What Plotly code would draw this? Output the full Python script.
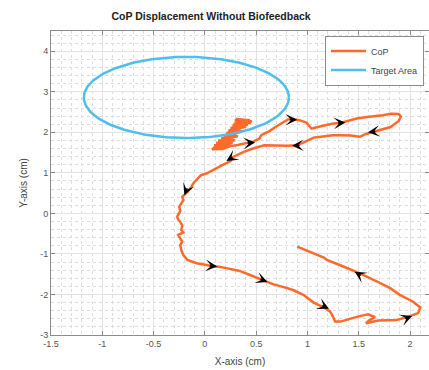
import math
import plotly.graph_objects as go

# CoP trajectory (cm)
cop_x = [0.44, 0.30, 0.46, 0.29, 0.45, 0.30, 0.42, 0.28, 0.38, 0.27, 0.34, 0.25, 0.33, 0.23, 0.31, 0.21,
         0.30, 0.19, 0.28, 0.16, 0.26, 0.13, 0.25, 0.11, 0.24, 0.09, 0.22, 0.08, 0.18, 0.07, 0.14, 0.27,
         0.17, 0.29, 0.22, 0.32, 0.27, 0.36, 0.30, 0.40, 0.35, 0.44, 0.37, 0.26, 0.20, 0.15, 0.09, 0.07,
         0.17, 0.25,
         0.32, 0.41, 0.47, 0.53, 0.55, 0.58, 0.63, 0.70, 0.76, 0.81, 0.86, 0.92, 0.99, 1.04, 1.08, 1.13,
         1.20, 1.25, 1.32, 1.40, 1.48, 1.58, 1.66, 1.74, 1.81, 1.89, 1.91, 1.89, 1.81, 1.72, 1.64, 1.57,
         1.51, 1.42, 1.33, 1.25, 1.15, 1.06, 0.98, 0.90, 0.80, 0.67, 0.58, 0.47, 0.38, 0.28, 0.25, 0.17,
         0.08, 0.02, -0.04, -0.11, -0.14, -0.17, -0.22, -0.21, -0.23, -0.25, -0.24, -0.27, -0.26, -0.24,
         -0.22, -0.23, -0.21, -0.26, -0.24, -0.22, -0.24, -0.23, -0.21, -0.17, -0.08, -0.01, 0.07, 0.15,
         0.22, 0.34, 0.44, 0.56, 0.67, 0.77, 0.86, 0.96, 1.06, 1.16, 1.22, 1.25, 1.27, 1.32, 1.42, 1.50,
         1.59, 1.66, 1.60, 1.57, 1.69, 1.80, 1.87, 1.97, 2.08, 2.10, 2.03, 1.90, 1.81, 1.68, 1.60, 1.51,
         1.35, 1.19, 1.16, 1.04, 0.90]
cop_y = [2.30, 2.33, 2.27, 2.29, 2.23, 2.25, 2.19, 2.21, 2.16, 2.17, 2.12, 2.11, 2.06, 2.05, 2.00, 1.99,
         1.94, 1.92, 1.88, 1.86, 1.82, 1.80, 1.76, 1.74, 1.70, 1.68, 1.64, 1.62, 1.60, 1.58, 1.65, 1.74,
         1.78, 1.80, 1.86, 1.90, 1.95, 2.02, 2.08, 2.14, 2.20, 2.26, 2.18, 2.05, 1.90, 1.75, 1.62, 1.58,
         1.59, 1.66,
         1.69, 1.74, 1.77, 1.84, 1.93, 1.97, 2.03, 2.15, 2.25, 2.32, 2.33, 2.30, 2.24, 2.09, 2.12, 2.15,
         2.19, 2.22, 2.23, 2.28, 2.34, 2.38, 2.40, 2.42, 2.46, 2.45, 2.39, 2.28, 2.13, 2.06, 2.01, 1.96,
         1.89, 1.92, 1.93, 1.93, 1.90, 1.87, 1.77, 1.68, 1.67, 1.68, 1.68, 1.60, 1.52, 1.40, 1.29, 1.19,
         1.07, 0.99, 0.94, 0.75, 0.62, 0.53, 0.41, 0.33, 0.25, 0.16, 0.06, -0.08, -0.15, -0.21,
         -0.30, -0.41, -0.47, -0.53, -0.62, -0.70, -0.78, -0.90, -1.03, -1.15, -1.23, -1.27, -1.30, -1.32,
         -1.35, -1.42, -1.52, -1.64, -1.75, -1.82, -1.89, -2.01, -2.20, -2.32, -2.42, -2.55, -2.67, -2.67, -2.59, -2.54,
         -2.49, -2.56, -2.64, -2.71, -2.64, -2.64, -2.63, -2.56, -2.46, -2.32, -2.18, -2.01, -1.85, -1.68, -1.58, -1.48,
         -1.31, -1.15, -1.09, -0.97, -0.82]

# Direction arrows: tip position and direction (data units)
arrow_x = [0.49, 0.90, 1.37, 1.59, 0.85, 0.21, -0.20, 0.12, 0.61, 1.21, 2.02, 1.46]
arrow_y = [1.75, 2.31, 2.24, 2.00, 1.67, 1.29, 0.45, -1.31, -1.69, -2.35, -2.53, -1.44]
arrow_dx = [0.10, 0.10, 0.10, -0.10, -0.10, -0.10, -0.04, 0.10, 0.10, 0.10, 0.10, -0.10]
arrow_dy = [0.02, 0.00, 0.015, -0.03, -0.01, -0.16, -0.25, -0.025, -0.10, -0.12, 0.10, 0.15]

# Target area (circle)
target_cx = -0.18
target_cy = 2.86
target_r = 1.0

x_range = [-1.5, 2.185]
y_range = [-3, 4.5]
x_ticks = [-1.5, -1, -0.5, 0, 0.5, 1, 1.5, 2]
y_ticks = [-3, -2, -1, 0, 1, 2, 3, 4]

W, H = 429, 370
ml, mr, mt, mb = 51, 0, 31, 35
px_per_x = (W - ml - mr) / (x_range[1] - x_range[0])
px_per_y = (H - mt - mb) / (y_range[1] - y_range[0])

n = 200
theta = [2 * math.pi * i / n for i in range(n + 1)]
ell_x = [target_cx + target_r * math.cos(t) for t in theta]
ell_y = [target_cy + target_r * math.sin(t) for t in theta]

orange = "#FF6A2A"
blue = "#4DBEEE"

fig = go.Figure()
fig.add_trace(go.Scatter(x=cop_x, y=cop_y, mode="lines", name="CoP",
                         line=dict(color=orange, width=2.5)))
fig.add_trace(go.Scatter(x=ell_x, y=ell_y, mode="lines", name="Target Area",
                         line=dict(color=blue, width=2.5)))

stem = 9
for x, y, dx, dy in zip(arrow_x, arrow_y, arrow_dx, arrow_dy):
    sx, sy = dx * px_per_x, -dy * px_per_y
    norm = math.hypot(sx, sy)
    ux, uy = sx / norm, sy / norm
    fig.add_annotation(x=x, y=y, xref="x", yref="y", text="", showarrow=True,
                       ax=-ux * stem, ay=-uy * stem, arrowhead=3, arrowsize=1.3,
                       arrowwidth=1.5, arrowcolor="black", standoff=0)

font = "Liberation Sans, Arial, sans-serif"
axis_common = dict(
    showline=True, linecolor="#8c8c8c", linewidth=1, mirror="ticks",
    ticks="inside", ticklen=4, tickcolor="#8c8c8c",
    showgrid=True, gridcolor="#e3e3e3", gridwidth=1,
    zeroline=False, tickfont=dict(family=font, size=9, color="#555555"),
)
fig.update_xaxes(range=x_range, tickvals=x_ticks, ticktext=[f"{v:g}" for v in x_ticks],
                 title=dict(text="X-axis (cm)", font=dict(family=font, size=10, color="#444444"), standoff=10),
                 minor=dict(dtick=0.1, showgrid=True, gridcolor="#dedede", griddash="dot", ticks=""),
                 **axis_common)
fig.update_yaxes(range=y_range, tickvals=y_ticks, ticktext=[f"{v:g}" for v in y_ticks],
                 title=dict(text="Y-axis (cm)", font=dict(family=font, size=10, color="#444444"), standoff=10),
                 minor=dict(dtick=0.2, showgrid=True, gridcolor="#dedede", griddash="dot", ticks=""),
                 **axis_common)

fig.update_layout(
    width=W, height=H,
    margin=dict(l=ml, r=mr, t=mt, b=mb),
    paper_bgcolor="white", plot_bgcolor="white",
    title=dict(text="<b>CoP Displacement Without Biofeedback</b>", x=0.492, xanchor="center",
               y=1 - 16 / H, yanchor="middle",
               font=dict(family=font, size=10.5, color="#222222")),
    legend=dict(x=0.725, y=0.985, xanchor="left", yanchor="top",
                bgcolor="white", bordercolor="#8c8c8c", borderwidth=1,
                font=dict(family=font, size=9, color="#444444"),
                tracegroupgap=0, itemwidth=35, entrywidth=70),
    showlegend=True,
)

fig.write_html("out.html")
